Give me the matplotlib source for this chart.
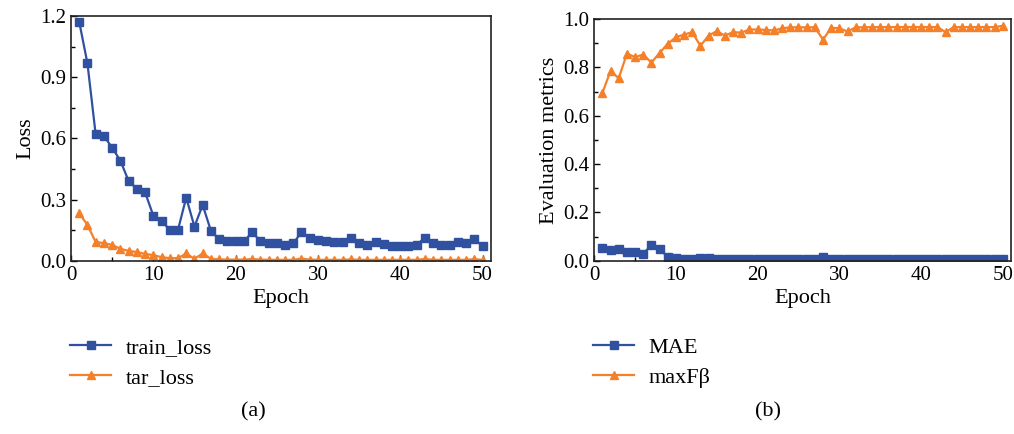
import numpy as np
import matplotlib
matplotlib.use("Agg")
import matplotlib.pyplot as plt
from matplotlib.ticker import MultipleLocator

plt.rcParams['font.family'] = ['Liberation Serif', 'DejaVu Serif']
plt.rcParams['font.size'] = 14

epochs = np.arange(1, 51)

train_loss = [1.172, 0.968, 0.620, 0.612, 0.555, 0.491, 0.392, 0.353, 0.336, 0.222,
              0.196, 0.152, 0.152, 0.310, 0.168, 0.274, 0.147, 0.106, 0.095, 0.095,
              0.095, 0.139, 0.099, 0.085, 0.088, 0.080, 0.085, 0.141, 0.114, 0.103,
              0.095, 0.093, 0.090, 0.111, 0.085, 0.077, 0.090, 0.083, 0.072, 0.075,
              0.075, 0.078, 0.114, 0.085, 0.077, 0.080, 0.090, 0.088, 0.106, 0.073]
tar_loss = [0.233, 0.176, 0.092, 0.087, 0.078, 0.059, 0.049, 0.043, 0.034, 0.028,
            0.018, 0.013, 0.013, 0.036, 0.010, 0.036, 0.010, 0.007, 0.006, 0.006,
            0.006, 0.009, 0.006, 0.005, 0.005, 0.005, 0.005, 0.011, 0.006, 0.005,
            0.005, 0.005, 0.005, 0.007, 0.005, 0.005, 0.005, 0.005, 0.005, 0.005,
            0.005, 0.005, 0.009, 0.005, 0.005, 0.005, 0.005, 0.005, 0.008, 0.005]

mae = [0.054, 0.043, 0.050, 0.038, 0.038, 0.030, 0.064, 0.047, 0.017, 0.013,
       0.009, 0.009, 0.012, 0.012, 0.008, 0.008, 0.008, 0.007, 0.007, 0.007,
       0.007, 0.007, 0.007, 0.007, 0.006, 0.006, 0.006, 0.014, 0.007, 0.006,
       0.006, 0.006, 0.006, 0.006, 0.006, 0.006, 0.006, 0.006, 0.006, 0.007,
       0.006, 0.006, 0.006, 0.006, 0.006, 0.006, 0.006, 0.006, 0.006, 0.006]
maxf = [0.694, 0.786, 0.755, 0.857, 0.843, 0.853, 0.820, 0.860, 0.898, 0.925,
        0.936, 0.946, 0.889, 0.932, 0.950, 0.932, 0.946, 0.944, 0.957, 0.957,
        0.955, 0.953, 0.962, 0.966, 0.966, 0.966, 0.966, 0.915, 0.964, 0.962,
        0.949, 0.966, 0.966, 0.967, 0.967, 0.967, 0.967, 0.967, 0.967, 0.967,
        0.967, 0.967, 0.946, 0.967, 0.967, 0.967, 0.967, 0.967, 0.967, 0.972]

blue = '#3050A0'
orange = '#F5802A'

fig = plt.figure(figsize=(10.14, 4.34), dpi=100)
ax1 = fig.add_axes([0.070, 0.399, 0.414, 0.564])
ax2 = fig.add_axes([0.586, 0.399, 0.411, 0.557])


def style(ax):
    ax.set_xlim(0, 51)
    ax.set_xticks([0, 10, 20, 30, 40, 50])
    ax.xaxis.set_minor_locator(MultipleLocator(5))
    ax.tick_params(which='both', direction='in', top=False, right=False, labelsize=15)
    ax.tick_params(which='major', length=4, width=1)
    ax.tick_params(which='minor', length=3, width=1)
    for s in ax.spines.values():
        s.set_linewidth(1.2)
        s.set_color('#222222')
    ax.set_xlabel('Epoch', fontsize=16, labelpad=3)


ax1.plot(epochs, train_loss, color=blue, marker='s', markersize=5.5, linewidth=1.6, label='train_loss')
ax1.plot(epochs, tar_loss, color=orange, marker='^', markersize=6, linewidth=1.6, label='tar_loss')
style(ax1)
ax1.set_ylim(0, 1.2)
ax1.set_yticks([0.0, 0.3, 0.6, 0.9, 1.2])
ax1.yaxis.set_minor_locator(MultipleLocator(0.15))
ax1.set_yticklabels(['0.0', '0.3', '0.6', '0.9', '1.2'])
ax1.set_ylabel('Loss', fontsize=16, labelpad=3)

ax2.plot(epochs, mae, color=blue, marker='s', markersize=5.5, linewidth=1.6, label='MAE')
ax2.plot(epochs, maxf, color=orange, marker='^', markersize=6, linewidth=1.6, label='maxFβ')
style(ax2)
ax2.set_ylim(0, 1.0)
ax2.set_yticks([0.0, 0.2, 0.4, 0.6, 0.8, 1.0])
ax2.yaxis.set_minor_locator(MultipleLocator(0.1))
ax2.set_yticklabels(['0.0', '0.2', '0.4', '0.6', '0.8', '1.0'])
ax2.set_ylabel('Evaluation metrics', fontsize=16, labelpad=3)

for ax, x0 in [(ax1, 0.069), (ax2, 0.585)]:
    ax.legend(loc='upper left', bbox_to_anchor=(x0, 0.222), bbox_transform=fig.transFigure,
              frameon=False, fontsize=16, handlelength=1.85, handletextpad=0.65,
              labelspacing=0.4, borderpad=0, borderaxespad=0)

fig.text(0.250, 0.052, '(a)', ha='center', va='center', fontsize=16)
fig.text(0.757, 0.052, '(b)', ha='center', va='center', fontsize=16)

fig.savefig('out.png', dpi=100)
